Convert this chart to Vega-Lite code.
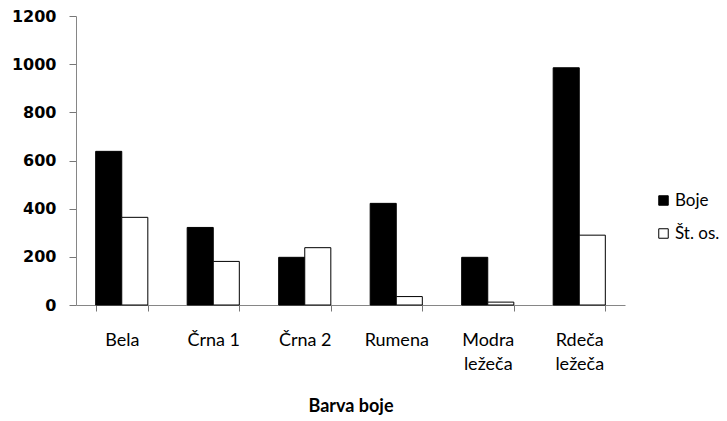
{
  "$schema": "https://vega.github.io/schema/vega-lite/v6.json",
  "autosize": "none",
  "width": 549,
  "height": 289,
  "padding": {"left": 76, "top": 16, "right": 102, "bottom": 116},
  "background": "white",
  "config": {"view": {"stroke": null}},
  "data": {
    "values": [
      {"barva": "Bela", "serija": "Boje", "vrednost": 638},
      {"barva": "Bela", "serija": "Št. os.", "vrednost": 364},
      {"barva": "Črna 1", "serija": "Boje", "vrednost": 322},
      {"barva": "Črna 1", "serija": "Št. os.", "vrednost": 181},
      {"barva": "Črna 2", "serija": "Boje", "vrednost": 198},
      {"barva": "Črna 2", "serija": "Št. os.", "vrednost": 238},
      {"barva": "Rumena", "serija": "Boje", "vrednost": 422},
      {"barva": "Rumena", "serija": "Št. os.", "vrednost": 35},
      {"barva": "Modra ležeča", "serija": "Boje", "vrednost": 198},
      {"barva": "Modra ležeča", "serija": "Št. os.", "vrednost": 12},
      {"barva": "Rdeča ležeča", "serija": "Boje", "vrednost": 985},
      {"barva": "Rdeča ležeča", "serija": "Št. os.", "vrednost": 290}
    ]
  },
  "mark": {"type": "bar", "stroke": "black", "strokeWidth": 1},
  "encoding": {
    "x": {
      "field": "barva",
      "type": "nominal",
      "sort": null,
      "scale": {"paddingInner": 0.43, "paddingOuter": 0.215},
      "axis": {
        "title": "Barva boje",
        "titleFont": "Lato",
        "titleFontSize": 18,
        "titleFontWeight": "bold",
        "titleColor": "black",
        "titlePadding": 24,
        "labelAngle": 0,
        "labelFont": "Lato",
        "labelFontSize": 18,
        "labelColor": "black",
        "labelPadding": 20,
        "labelLineHeight": 24,
        "labelExpr": "indexof(datum.label, 'ležeča') > 0 ? split(datum.label, ' ') : datum.label",
        "tickBand": "extent",
        "tickSize": 6,
        "tickColor": "#777777",
        "domainColor": "#868686"
      }
    },
    "xOffset": {"field": "serija", "type": "nominal", "sort": ["Boje", "Št. os."]},
    "y": {
      "field": "vrednost",
      "type": "quantitative",
      "scale": {"domain": [0, 1200]},
      "axis": {
        "title": null,
        "values": [0, 200, 400, 600, 800, 1000, 1200],
        "format": "d",
        "grid": false,
        "labelFont": "DejaVu Sans",
        "labelFontWeight": "bold",
        "labelFontSize": 16,
        "labelColor": "black",
        "labelPadding": 13,
        "tickSize": 7,
        "tickColor": "#777777",
        "domainColor": "#868686"
      }
    },
    "fill": {
      "field": "serija",
      "type": "nominal",
      "scale": {"domain": ["Boje", "Št. os."], "range": ["black", "white"]},
      "legend": {
        "title": null,
        "orient": "none",
        "legendX": 579,
        "legendY": 176,
        "padding": 0,
        "symbolType": "square",
        "symbolSize": 90,
        "symbolStrokeColor": "black",
        "symbolStrokeWidth": 1,
        "symbolOpacity": 1,
        "labelFont": "Lato",
        "labelFontSize": 17,
        "labelColor": "black",
        "labelOffset": 3,
        "rowPadding": 15
      }
    }
  }
}
